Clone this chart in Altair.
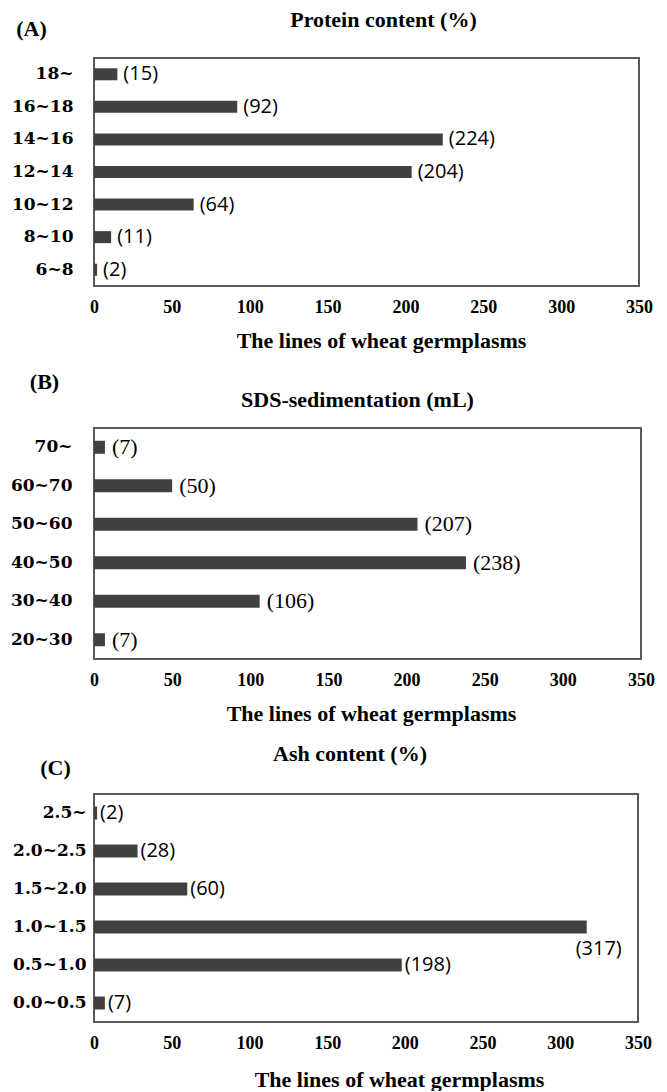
import altair as alt
import pandas as pd

# ---- data ----
A_cats = ["18~", "16~18", "14~16", "12~14", "10~12", "8~10", "6~8"]
A_vals = [15, 92, 224, 204, 64, 11, 2]

B_cats = ["70~", "60~70", "50~60", "40~50", "30~40", "20~30"]
B_vals = [7, 50, 207, 238, 106, 7]

C_cats = ["2.5~", "2.0~2.5", "1.5~2.0", "1.0~1.5", "0.5~1.0", "0.0~0.5"]
C_vals = [2, 28, 60, 317, 198, 7]

x_ticks = [0, 50, 100, 150, 200, 250, 300, 350]
x_title = "The lines of wheat germplasms"

SERIF = "Liberation Serif"
WIDE_SERIF = "DejaVu Serif"
SANS = "Open Sans"
BAR = "#404040"
FRAME = "#595959"


def panel(cats, vals, title, letter, width, height, bar_size,
          label_font, label_size, label_dx,
          title_dx, title_offset, letter_x, letter_y, cat_pad,
          axis_title_x, axis_title_y, special=None, special_dx=0, special_dy=0):
    df = pd.DataFrame({"cat": cats, "val": vals,
                       "lab": ["(%d)" % v for v in vals]})
    y = alt.Y("cat:N", sort=cats,
              scale=alt.Scale(paddingInner=0, paddingOuter=0),
              axis=alt.Axis(title=letter, titleAngle=0, titleX=letter_x, titleY=letter_y,
                            titleAlign="center", titleBaseline="middle",
                            titleFont=SERIF, titleFontSize=22, titleFontWeight="bold",
                            titleColor="black",
                            labelFont=WIDE_SERIF, labelFontSize=17, labelFontWeight="bold",
                            labelColor="black", labelPadding=cat_pad,
                            ticks=False, tickSize=0, domain=False, grid=False))
    x = alt.X("val:Q", scale=alt.Scale(domain=[0, 350], nice=False),
              axis=alt.Axis(values=x_ticks, title=x_title, labelFlush=False, labelOverlap=False,
                            labelFont=SERIF, labelFontSize=18, labelFontWeight="bold",
                            labelColor="black", labelPadding=12,
                            ticks=False, tickSize=0, domain=False, grid=False,
                            titleFont=SERIF, titleFontSize=22, titleFontWeight="bold",
                            titleColor="black", titleX=axis_title_x, titleY=axis_title_y,
                            titleAlign="center", titleBaseline="middle"))
    base = alt.Chart(df)
    bars = base.mark_bar(size=bar_size, color=BAR).encode(x=x, y=y)
    normal = base
    if special is not None:
        normal = base.transform_filter(alt.datum.val != special)
    texts = normal.mark_text(align="left", baseline="middle", dx=label_dx,
                             font=label_font, fontSize=label_size, color="black").encode(
        x="val:Q", y=alt.Y("cat:N", sort=cats), text="lab:N")
    layers = [bars, texts]
    if special is not None:
        sp = base.transform_filter(alt.datum.val == special).mark_text(
            align="center", baseline="middle", dx=special_dx, dy=special_dy,
            font=label_font, fontSize=label_size, color="black").encode(
            x="val:Q", y=alt.Y("cat:N", sort=cats), text="lab:N")
        layers.append(sp)
    return alt.layer(*layers).properties(
        width=width, height=height,
        view=alt.ViewBackground(stroke=FRAME, strokeWidth=2, fill="white"),
        title=alt.TitleParams(title, anchor="middle", frame="group", offset=title_offset,
                              dx=title_dx, font=SERIF, fontSize=22, fontWeight="bold",
                              color="black"))


A = panel(A_cats, A_vals, "Protein content (%)", "(A)", 545, 228, 12,
          SANS, 20, 6, 17, -15, -63, -30, 21, 287, 54)
B = panel(B_cats, B_vals, "SDS-sedimentation (mL)", "(B)", 547, 231, 13,
          SERIF, 22, 7, -10, -42, -50, -47, 22, 277, 54)
C = panel(C_cats, C_vals, "Ash content (%)", "(C)", 544, 228, 13,
          SANS, 20, 3, -16, -10, -39, -27, 8, 305, 57,
          special=317, special_dx=12, special_dy=22)

chart = alt.concat(A, B, C, columns=1, spacing=17).properties(
    padding={"left": 1, "top": 0, "right": 0, "bottom": 0},
    background="white"
).configure_view(stroke=FRAME, strokeWidth=2)

chart.save("out.html", embed_options={"renderer": "svg", "actions": False})
